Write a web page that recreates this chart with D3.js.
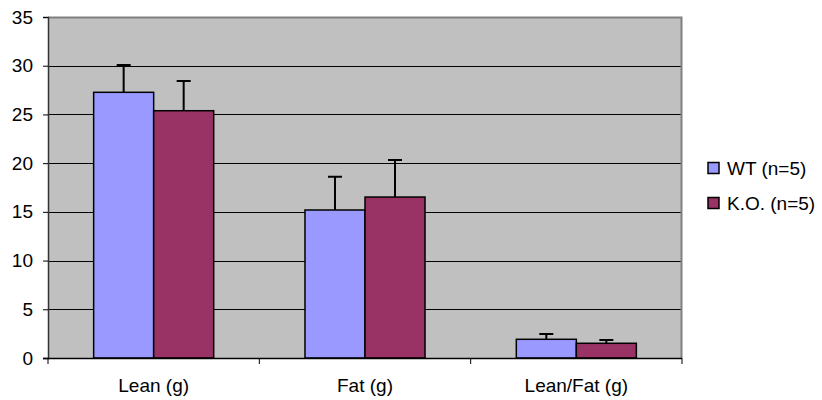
<!DOCTYPE html>
<html>
<head>
<meta charset="utf-8">
<script src="https://cdn.jsdelivr.net/npm/d3@7/dist/d3.min.js"></script>
<style>
  html, body { margin: 0; padding: 0; background: #fff; }
  svg { display: block; font-family: Arial, "Liberation Sans", sans-serif; }
</style>
</head>
<body>
<svg id="chart" width="822" height="400"></svg>
<script>
const categories = ["Lean (g)", "Fat (g)", "Lean/Fat (g)"];
const seriesNames = ["WT (n=5)", "K.O. (n=5)"];
const wtValues = [27.27, 15.19, 1.92];
const wtErrors = [2.8, 3.42, 0.54];
const koValues = [25.38, 16.52, 1.51];
const koErrors = [3.05, 3.8, 0.34];
const yTicks = [0, 5, 10, 15, 20, 25, 30, 35];
const colors = ["#9999FF", "#993366"];

const series = [
  { name: seriesNames[0], values: wtValues, errors: wtErrors, color: colors[0] },
  { name: seriesNames[1], values: koValues, errors: koErrors, color: colors[1] }
];

const svg = d3.select("#chart");
const pL = 48, pR = 682, pT = 17, pB = 358;
const fs = 19;

const x0 = d3.scaleBand().domain(categories).range([pL, pR])
  .paddingInner(0.432).paddingOuter(0.216);
const x1 = d3.scaleBand().domain(seriesNames).range([0, x0.bandwidth()]);
const y = d3.scaleLinear().domain([0, 35]).range([pB, pT]);

// plot background
svg.append("rect").attr("x", pL).attr("y", pT)
  .attr("width", pR - pL).attr("height", pB - pT)
  .attr("fill", "#C0C0C0");

// gridlines
svg.append("g").selectAll("line").data(yTicks.filter(t => t > 0 && t < 35)).join("line")
  .attr("x1", pL).attr("x2", pR)
  .attr("y1", d => Math.round(y(d)) + 0.5).attr("y2", d => Math.round(y(d)) + 0.5)
  .attr("stroke", "#000").attr("stroke-width", 1);

// frame top/right
svg.append("path")
  .attr("d", `M${pL},${pT + 0.5}H${pR - 0.5}V${pB}`)
  .attr("fill", "none").attr("stroke", "#808080").attr("stroke-width", 2);

// bars
const groups = svg.append("g").selectAll("g").data(series).join("g");
groups.selectAll("rect").data(s => s.values.map((v, i) => ({ v, i, s }))).join("rect")
  .attr("x", d => x0(categories[d.i]) + x1(d.s.name))
  .attr("y", d => y(d.v))
  .attr("width", x1.bandwidth())
  .attr("height", d => y(0) - y(d.v))
  .attr("fill", d => d.s.color)
  .attr("stroke", "#000").attr("stroke-width", 1.5);

// error bars
groups.selectAll("path.err").data(s => s.values.map((v, i) => ({ v, e: s.errors[i], i, s }))).join("path")
  .attr("class", "err")
  .attr("d", d => {
    const cx = x0(categories[d.i]) + x1(d.s.name) + x1.bandwidth() / 2;
    const yt = y(d.v + d.e), yb = y(d.v);
    return `M${cx},${yb}V${yt}M${cx - 7},${yt}H${cx + 7}`;
  })
  .attr("fill", "none").attr("stroke", "#000").attr("stroke-width", 2);

// y axis
const yAxis = d3.axisLeft(y).tickValues(yTicks).tickSize(5).tickPadding(10);
const gy = svg.append("g").attr("transform", `translate(${pL},0)`).call(yAxis);
gy.select(".domain").attr("stroke", "#333").attr("stroke-width", 1.5);
gy.selectAll(".tick line").attr("stroke", "#000");
gy.selectAll("text").attr("font-size", fs).attr("fill", "#000")
  .attr("font-family", "Arial, 'Liberation Sans', sans-serif");

// x axis
const gx = svg.append("g").attr("transform", `translate(0,${pB})`);
gx.append("line").attr("x1", pL - 5).attr("x2", pR).attr("y1", 0.5).attr("y2", 0.5)
  .attr("stroke", "#000").attr("stroke-width", 1.5);
const step = x0.step();
const bounds = d3.range(categories.length + 1).map(i => pL + i * step);
gx.selectAll("line.tk").data(bounds).join("line").attr("class", "tk")
  .attr("x1", d => d).attr("x2", d => d).attr("y1", 0).attr("y2", 6)
  .attr("stroke", "#000");
gx.selectAll("text").data(categories).join("text")
  .attr("x", d => x0(d) + x0.bandwidth() / 2)
  .attr("y", 34)
  .attr("text-anchor", "middle").attr("font-size", fs).attr("fill", "#000")
  .text(d => d);

// legend
const legend = svg.append("g").selectAll("g").data(series).join("g")
  .attr("transform", (d, i) => `translate(708,${168 + i * 35})`);
legend.append("rect").attr("x", 0).attr("y", -5.5).attr("width", 11).attr("height", 11)
  .attr("fill", d => d.color).attr("stroke", "#000").attr("stroke-width", 1.5);
legend.append("text").attr("x", 19).attr("y", 0).attr("dy", "0.35em")
  .attr("font-size", fs).attr("fill", "#000").text(d => d.name);
</script>
</body>
</html>
